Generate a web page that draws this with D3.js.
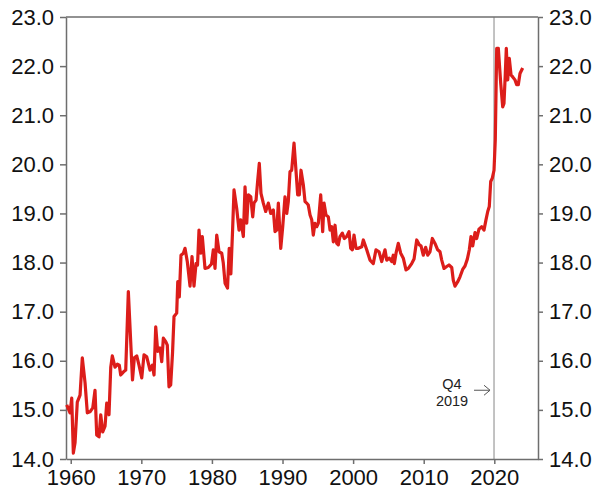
<!DOCTYPE html>
<html>
<head>
<meta charset="utf-8">
<script src="https://cdn.jsdelivr.net/npm/d3@7"></script>
<style>
  body { margin: 0; background: #fff; }
  svg { display: block; }
  .axis text { font-family: "Liberation Sans", Arial, sans-serif; font-size: 22px; fill: #111; }
  .axis path, .axis line { stroke: #6e6e6e; stroke-width: 1.5; }
</style>
</head>
<body>
<script>
  // Données (année décimale, valeur)
  const years = [
    1959.43, 1959.90, 1960.14, 1960.37, 1960.61, 1960.93, 1961.32, 1961.64, 1962.03, 1962.35,
    1962.73, 1963.12, 1963.44, 1963.68, 1964.01, 1964.25, 1964.53, 1964.86, 1965.10, 1965.42,
    1965.67, 1965.89, 1966.27, 1966.60, 1966.88, 1967.08, 1967.45, 1967.79, 1968.16, 1968.75,
    1969.01, 1969.35, 1969.67, 1970.06, 1970.38, 1970.77, 1971.23, 1971.56, 1971.80, 1972.04,
    1972.32, 1972.65, 1972.89, 1973.12, 1973.46, 1973.68, 1973.92, 1974.16, 1974.42, 1974.63,
    1975.01, 1975.16, 1975.38, 1975.62, 1975.95, 1976.19, 1976.52, 1976.90, 1977.18, 1977.46,
    1977.75, 1977.96, 1978.17, 1978.41, 1978.64, 1979.02, 1979.49, 1979.94, 1980.20, 1980.44,
    1980.68, 1981.01, 1981.39, 1981.61, 1981.86, 1982.21, 1982.45, 1982.68, 1982.92, 1983.13,
    1983.51, 1983.84, 1984.08, 1984.45, 1984.69, 1984.93, 1985.16, 1985.50, 1985.78, 1985.96,
    1986.25, 1986.49, 1986.71, 1986.95, 1987.28, 1987.62, 1987.99, 1988.33, 1988.70, 1988.94,
    1989.18, 1989.41, 1989.75, 1990.03, 1990.35, 1990.60, 1990.82, 1991.06, 1991.30, 1991.63,
    1991.87, 1992.15, 1992.38, 1992.62, 1992.95, 1993.19, 1993.43, 1993.65, 1993.90, 1994.14,
    1994.36, 1994.60, 1994.84, 1995.07, 1995.41, 1995.69, 1995.88, 1996.16, 1996.49, 1996.73,
    1996.97, 1997.20, 1997.44, 1997.68, 1997.90, 1998.14, 1998.47, 1998.75, 1999.09, 1999.42,
    1999.66, 1999.89, 2000.13, 2000.41, 2000.74, 2001.22, 2001.45, 2001.93, 2002.39, 2002.86,
    2003.24, 2003.67, 2004.05, 2004.52, 2004.76, 2005.13, 2005.47, 2005.69, 2005.84, 2006.08,
    2006.40, 2006.74, 2007.11, 2007.49, 2007.82, 2008.30, 2008.63, 2009.01, 2009.38, 2009.62,
    2009.94, 2010.28, 2010.57, 2010.89, 2011.22, 2011.60, 2011.98, 2012.31, 2012.55, 2012.88,
    2013.26, 2013.58, 2013.97, 2014.19, 2014.43, 2014.82, 2015.14, 2015.52, 2015.85, 2016.18,
    2016.46, 2016.70, 2016.94, 2017.27, 2017.51, 2017.83, 2018.22, 2018.54, 2018.82, 2019.07,
    2019.29, 2019.49, 2019.72, 2019.96, 2020.14, 2020.34, 2020.57, 2020.91, 2021.19, 2021.37,
    2021.56, 2021.70, 2021.90, 2022.12, 2022.37, 2022.61, 2022.93, 2023.17, 2023.40, 2023.64,
    2024.02
  ];
  const values = [
    15.10, 14.94, 15.24, 14.12, 14.33, 15.16, 15.30, 16.06, 15.55, 14.94,
    14.96, 15.04, 15.40, 14.49, 14.45, 14.90, 14.55, 14.67, 15.14, 14.90,
    15.87, 16.10, 15.87, 15.93, 15.91, 15.71, 15.77, 15.81, 17.41, 15.61,
    16.06, 16.10, 15.91, 15.65, 16.12, 16.08, 15.81, 15.91, 15.71, 16.69,
    16.19, 16.26, 15.98, 16.46, 16.39, 16.32, 15.47, 15.51, 16.16, 16.90,
    16.97, 17.61, 17.30, 18.15, 18.19, 18.29, 18.01, 17.52, 18.12, 17.52,
    17.98, 17.95, 18.66, 18.19, 18.53, 17.88, 17.90, 17.97, 18.26, 17.88,
    18.56, 18.22, 18.19, 17.99, 17.58, 17.48, 18.29, 17.77, 18.63, 19.48,
    19.10, 18.66, 18.87, 18.53, 19.54, 18.80, 19.38, 19.34, 18.93, 19.21,
    19.27, 19.68, 20.02, 19.41, 19.21, 19.04, 19.21, 19.00, 19.07, 18.63,
    18.66, 19.21, 18.29, 18.73, 19.34, 19.00, 19.24, 19.85, 19.88, 20.43,
    19.95, 19.38, 19.38, 19.88, 19.58, 19.24, 19.21, 19.17, 18.97, 18.87,
    18.56, 18.80, 18.73, 18.80, 19.38, 18.63, 19.21, 18.97, 18.93, 18.66,
    18.73, 18.42, 18.76, 18.39, 18.36, 18.53, 18.60, 18.49, 18.53, 18.63,
    18.29, 18.26, 18.56, 18.29, 18.29, 18.32, 18.46, 18.26, 18.05, 17.98,
    18.26, 18.22, 18.02, 18.26, 18.05, 18.09, 18.02, 18.15, 17.98, 18.19,
    18.39, 18.19, 18.09, 17.85, 17.88, 17.98, 18.07, 18.46, 18.36, 18.34,
    18.15, 18.31, 18.15, 18.22, 18.49, 18.39, 18.26, 18.22, 18.05, 17.88,
    17.92, 17.95, 17.90, 17.64, 17.52, 17.61, 17.71, 17.86, 17.93, 18.07,
    18.26, 18.53, 18.34, 18.61, 18.49, 18.68, 18.73, 18.66, 18.87, 19.04,
    19.14, 19.65, 19.72, 19.88, 20.50, 22.36, 22.36, 21.65, 21.17, 21.24,
    21.85, 22.36, 21.72, 22.16, 21.82, 21.78, 21.72, 21.62, 21.62, 21.85,
    21.96
  ];

  const yTicks = [14, 15, 16, 17, 18, 19, 20, 21, 22, 23];
  const xTicks = [1960, 1970, 1980, 1990, 2000, 2010, 2020];
  const xDomain = [1959.33, 2026.19];
  const yDomain = [14, 23];

  // Repère "Q4 2019"
  const markerYear = 2019.96;
  const markerLabel = ["Q4", "2019"];
  const markerValue = 15.4;

  /***** Configuration *****/
  const margin = { top: 17, right: 61, bottom: 37, left: 66 };
  const width = 599 - margin.left - margin.right;
  const height = 496 - margin.top - margin.bottom;

  const x = d3.scaleLinear().domain(xDomain).range([0, width]);
  const y = d3.scaleLinear().domain(yDomain).range([height, 0]);

  const svg = d3.select("body")
    .append("svg")
    .attr("width", 599)
    .attr("height", 496);

  const g = svg.append("g")
    .attr("transform", "translate(" + margin.left + "," + margin.top + ")");

  // Ligne verticale du repère
  g.append("line")
    .attr("x1", x(markerYear)).attr("x2", x(markerYear))
    .attr("y1", 0).attr("y2", height)
    .attr("stroke", "#9a9a9a")
    .attr("stroke-width", 1.2);

  // Axes
  const fmt = d3.format(".1f");
  g.append("g")
    .attr("class", "axis")
    .call(d3.axisLeft(y).tickValues(yTicks).tickFormat(fmt).tickSize(6).tickPadding(6).tickSizeOuter(0));

  g.append("g")
    .attr("class", "axis")
    .attr("transform", "translate(" + width + ",0)")
    .call(d3.axisRight(y).tickValues(yTicks).tickFormat(fmt).tickSize(5).tickPadding(6).tickSizeOuter(0));

  g.append("g")
    .attr("class", "axis")
    .attr("transform", "translate(0," + height + ")")
    .call(d3.axisBottom(x).tickValues(xTicks).tickFormat(d3.format("d")).tickSize(5).tickPadding(5).tickSizeOuter(0));

  // Bordure du haut
  g.append("line")
    .attr("x1", 0).attr("x2", width)
    .attr("y1", 0).attr("y2", 0)
    .attr("stroke", "#6e6e6e")
    .attr("stroke-width", 1.5);

  // Série
  const data = years.map((yr, i) => ({ year: yr, value: values[i] }));
  const line = d3.line()
    .x(d => x(d.year))
    .y(d => y(d.value));

  g.append("path")
    .datum(data)
    .attr("fill", "none")
    .attr("stroke", "#dc1d1a")
    .attr("stroke-width", 3.2)
    .attr("stroke-linejoin", "round")
    .attr("d", line);

  // Annotation
  const ax = x(markerYear);
  const ay = y(markerValue);
  const note = g.append("text")
    .attr("x", ax - 42)
    .attr("y", ay - 1)
    .attr("text-anchor", "middle")
    .style("font-family", "Liberation Sans, Arial, sans-serif")
    .style("font-size", "14.5px")
    .style("fill", "#222");
  note.selectAll("tspan")
    .data(markerLabel)
    .join("tspan")
    .attr("x", ax - 42)
    .attr("dy", (d, i) => i === 0 ? 0 : 17)
    .text(d => d);

  g.append("line")
    .attr("x1", ax - 20).attr("x2", ax - 4)
    .attr("y1", ay).attr("y2", ay)
    .attr("stroke", "#555").attr("stroke-width", 1);
  g.append("path")
    .attr("d", "M" + (ax - 10) + "," + (ay - 5) + "L" + (ax - 4) + "," + ay + "L" + (ax - 10) + "," + (ay + 5))
    .attr("fill", "none")
    .attr("stroke", "#555").attr("stroke-width", 1);
</script>
</body>
</html>
